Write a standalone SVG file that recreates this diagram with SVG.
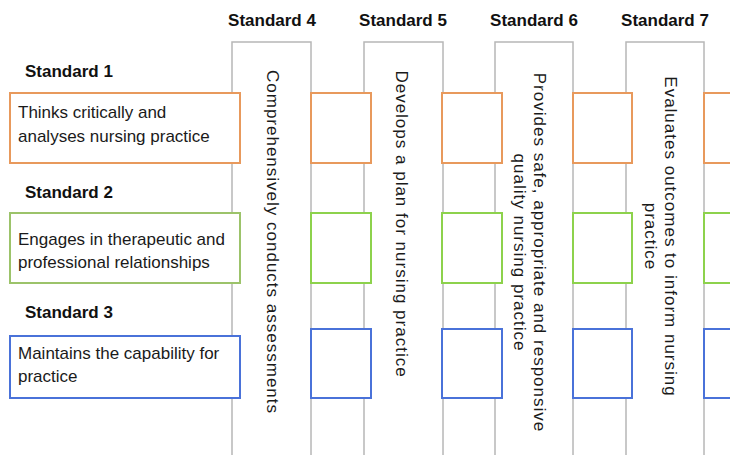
<svg xmlns="http://www.w3.org/2000/svg" width="730" height="455" viewBox="0 0 730 455">
<style>
.col{fill:#ffffff;stroke:#b7b7b7;stroke-width:1.5}
.box{fill:#ffffff;stroke-width:2}
.or{stroke:#e8995c}
.gr{stroke:#9cc36a}
.grs{stroke:#8dd24c}
.bl{stroke:#4a72d9}
.hd{font-family:"Liberation Sans",Arial,sans-serif;font-size:17px;font-weight:bold;fill:#111}
.tx{font-family:"Liberation Sans",Arial,sans-serif;font-size:17px;fill:#1a1a1a}
.vt{font-family:"Liberation Sans",Arial,sans-serif;font-size:17px;fill:#1a1a1a;letter-spacing:1px;text-anchor:middle}
</style>
<rect width="730" height="455" fill="#ffffff"/>
<g id="columns">
<g id="standard4"><rect class="col" x="232" y="42" width="79" height="430"/><text class="hd" x="272" y="26" text-anchor="middle">Standard 4</text></g>
<g id="standard5"><rect class="col" x="364" y="42" width="79" height="430"/><text class="hd" x="403" y="26" text-anchor="middle">Standard 5</text></g>
<g id="standard6"><rect class="col" x="495" y="42" width="78" height="430"/><text class="hd" x="534" y="26" text-anchor="middle">Standard 6</text></g>
<g id="standard7"><rect class="col" x="626" y="42" width="78" height="430"/><text class="hd" x="665" y="26" text-anchor="middle">Standard 7</text></g>
</g>
<g id="connectors">
<rect class="box or" x="311" y="93" width="60" height="70"/>
<rect class="box or" x="442" y="93" width="60" height="70"/>
<rect class="box or" x="573" y="93" width="59" height="70"/>
<rect class="box or" x="704" y="93" width="60" height="70"/>
<rect class="box grs" x="311" y="213" width="60" height="70"/>
<rect class="box grs" x="442" y="213" width="60" height="70"/>
<rect class="box grs" x="573" y="213" width="59" height="70"/>
<rect class="box grs" x="704" y="213" width="60" height="70"/>
<rect class="box bl" x="311" y="329" width="60" height="69"/>
<rect class="box bl" x="442" y="329" width="60" height="69"/>
<rect class="box bl" x="573" y="329" width="59" height="69"/>
<rect class="box bl" x="704" y="329" width="60" height="69"/>
</g>
<g id="standard1">
<text class="hd" x="25" y="77">Standard 1</text>
<rect class="box or" x="10" y="93" width="230" height="70"/>
<text class="tx" x="18" y="118">Thinks critically and</text>
<text class="tx" x="18" y="142">analyses nursing practice</text>
</g>
<g id="standard2">
<text class="hd" x="25" y="198">Standard 2</text>
<rect class="box gr" x="10" y="213" width="230" height="70"/>
<text class="tx" x="18" y="245">Engages in therapeutic and</text>
<text class="tx" x="18" y="268">professional relationships</text>
</g>
<g id="standard3">
<text class="hd" x="25" y="318">Standard 3</text>
<rect class="box bl" x="10" y="336" width="230" height="62"/>
<text class="tx" x="18" y="359">Maintains the capability for</text>
<text class="tx" x="18" y="382">practice</text>
</g>
<g id="labels">
<text class="vt" transform="translate(267,242) rotate(90)">Comprehensively conducts assessments</text>
<text class="vt" transform="translate(396,224) rotate(90)">Develops a plan for nursing practice</text>
<text class="vt" transform="translate(534,252.5) rotate(90)"><tspan x="0" y="0">Provides safe, appropriate and responsive</tspan><tspan x="0" y="20">quality nursing practice</tspan></text>
<text class="vt" transform="translate(665,236.5) rotate(90)"><tspan x="0" y="0">Evaluates outcomes to inform nursing</tspan><tspan x="0" y="20">practice</tspan></text>
</g>
</svg>
